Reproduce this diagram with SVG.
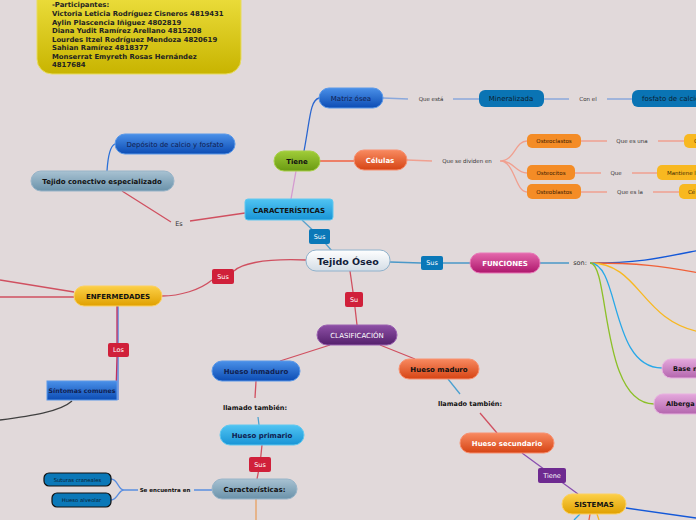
<svg xmlns="http://www.w3.org/2000/svg" width="696" height="520" viewBox="0 0 696 520">
<defs>
<linearGradient id="gYel" x1="0" y1="0" x2="0" y2="1"><stop offset="0" stop-color="#eee040"/><stop offset="1" stop-color="#c8b400"/></linearGradient>
<linearGradient id="gBlue" x1="0" y1="0" x2="0" y2="1"><stop offset="0" stop-color="#4a90e8"/><stop offset="1" stop-color="#0c4cb4"/></linearGradient>
<linearGradient id="gGray" x1="0" y1="0" x2="0" y2="1"><stop offset="0" stop-color="#a8c2d2"/><stop offset="1" stop-color="#6a92aa"/></linearGradient>
<linearGradient id="gCyan" x1="0" y1="0" x2="0" y2="1"><stop offset="0" stop-color="#50c4f2"/><stop offset="1" stop-color="#1894d6"/></linearGradient>
<linearGradient id="gGreen" x1="0" y1="0" x2="0" y2="1"><stop offset="0" stop-color="#a0cc38"/><stop offset="1" stop-color="#6a9a12"/></linearGradient>
<linearGradient id="gRed" x1="0" y1="0" x2="0" y2="1"><stop offset="0" stop-color="#f88a60"/><stop offset="1" stop-color="#d64414"/></linearGradient>
<linearGradient id="gWhite" x1="0" y1="0" x2="0" y2="1"><stop offset="0" stop-color="#ffffff"/><stop offset="1" stop-color="#d4dde6"/></linearGradient>
<linearGradient id="gMag" x1="0" y1="0" x2="0" y2="1"><stop offset="0" stop-color="#e468ac"/><stop offset="1" stop-color="#ae166c"/></linearGradient>
<linearGradient id="gPink" x1="0" y1="0" x2="0" y2="1"><stop offset="0" stop-color="#e4a8dc"/><stop offset="1" stop-color="#b466ae"/></linearGradient>
<linearGradient id="gGold" x1="0" y1="0" x2="0" y2="1"><stop offset="0" stop-color="#fcd048"/><stop offset="1" stop-color="#e0a000"/></linearGradient>
<linearGradient id="gPurp" x1="0" y1="0" x2="0" y2="1"><stop offset="0" stop-color="#8e50a6"/><stop offset="1" stop-color="#54206c"/></linearGradient>
</defs>
<style>
text{font-family:"DejaVu Sans",Verdana,sans-serif;text-anchor:middle;dominant-baseline:central}
.b{font-weight:bold}
.lbl{font-size:6px;fill:#333}
.ln{fill:none;stroke-width:1.3}
.tag{font-size:6.5px;fill:#fff}
</style>
<rect width="696" height="520" fill="#e1d9da"/>

<g id="connectors">
<path class="ln" stroke="#5aa2cc" d="M332,251 L319,236 L302,220"/>
<path class="ln" stroke="#d05060" d="M245,213 L190,221 M171,222 L122,191"/>
<path class="ln" stroke="#2a70d8" d="M107,171 C108,155 110,146 115,144"/>
<path class="ln" stroke="#d49ad0" d="M291,199 L296,171"/>
<path class="ln" stroke="#2a66d0" stroke-width="1.6" d="M304,151 C310,120 310,100 319,98"/>
<path class="ln" stroke="#f06040" stroke-width="1.6" d="M320,161 L354,161"/>
<path class="ln" stroke="#8aa8dc" d="M383,98 L408,99 M453,99 L479,99 M544,99 L569,99 M607,99 L632,99"/>
<path class="ln" stroke="#f0a090" d="M407,160 L432,161 M500,161 C515,161 515,141 527,141 M500,161 C515,161 515,173 527,173 M500,161 C515,161 515,192 527,192 M581,141 L607,141 M658,141 L684,141 M575,173 L601,173 M632,173 L657,173 M581,192 L607,192 M653,192 L679,192"/>
<path class="ln" stroke="#4a98c8" d="M390,262 L421,263 M443,263 L470,263 M540,263 L569,263"/>
<path class="ln" stroke="#1458d8" stroke-width="2" d="M590,263 C640,263 660,258 700,250"/>
<path class="ln" stroke="#f06038" stroke-width="1.6" d="M590,263 C640,263 660,266 700,273"/>
<path class="ln" stroke="#f8b820" stroke-width="1.4" d="M590,263 C640,263 640,320 700,332"/>
<path class="ln" stroke="#28a8e8" stroke-width="1.4" d="M590,263 C620,263 610,368 662,368"/>
<path class="ln" stroke="#8cc028" stroke-width="1.4" d="M590,263 C610,263 600,404 654,404"/>
<path class="ln" stroke="#d05060" d="M306,260 C260,258 240,265 234,271 M212,280 C200,290 180,296 162,296"/>
<path class="ln" stroke="#d05060" d="M74,292 L0,280 M74,297 L0,297"/>
<path class="ln" stroke="#d05060" d="M350,271 L354,299 L357,325"/>
<path class="ln" stroke="#d05060" d="M330,345 L280,361 M380,345 L415,359"/>
<path class="ln" stroke="#d05060" d="M256,381 L255,398"/>
<path class="ln" stroke="#4aa0d0" d="M258,417 L259,425"/>
<path class="ln" stroke="#d05060" d="M262,445 L260,464 L257,479"/>
<path class="ln" stroke="#e8a060" d="M256,499 L256,520"/>
<path class="ln" stroke="#5a8ee0" d="M212,490 L194,490 M138,490 L124,490 C118,490 118,479 111,479 M124,490 C118,490 118,500 111,500"/>
<path class="ln" stroke="#4aa0d0" d="M448,379 L460,394"/>
<path class="ln" stroke="#d05060" d="M480,413 L497,433"/>
<path class="ln" stroke="#8a50b0" d="M522,453 L552,475 L578,494"/>
<path class="ln" stroke="#1458d8" d="M626,508 L696,518"/>
<path class="ln" stroke="#28a8e8" d="M580,514 L574,520"/>
<path class="ln" stroke="#f06040" d="M590,514 L589,520"/>
<path class="ln" stroke="#f8b820" d="M597,514 L599,520"/>
<path class="ln" stroke="#4a7ae0" stroke-width="1.6" d="M118,306 L118,400"/>
<path class="ln" stroke="#c03060" d="M117,306 L117,343 M117,357 L116,392"/>
<path class="ln" stroke="#404040" stroke-width="1.4" d="M72,401 C60,412 30,416 0,420"/>
</g>

<g id="participantes">
<path d="M37,-10 H241 V59 A15,15 0 0 1 226,74 H52 A15,15 0 0 1 37,59 Z" fill="url(#gYel)" stroke="#e8dc60"/>
<g class="b" style="font-size:6.9px;text-anchor:start" fill="#222">
<text x="52" y="5" style="text-anchor:start">-Participantes:</text>
<text x="52" y="14" style="text-anchor:start">Victoria Leticia Rodríguez Cisneros 4819431</text>
<text x="52" y="22.5" style="text-anchor:start">Aylin Plascencia Iñiguez 4802819</text>
<text x="52" y="31" style="text-anchor:start">Diana Yudit Ramírez Arellano 4815208</text>
<text x="52" y="39.5" style="text-anchor:start">Lourdes Itzel Rodríguez Mendoza 4820619</text>
<text x="52" y="48" style="text-anchor:start">Sahian Ramírez 4818377</text>
<text x="52" y="56.5" style="text-anchor:start">Monserrat Emyreth Rosas Hernández</text>
<text x="52" y="65" style="text-anchor:start">4817684</text>
</g>
</g>

<g id="deposito"><rect x="115" y="134" width="120" height="20" rx="10" fill="url(#gBlue)" stroke="#5a98e8"/><text x="175" y="144.5" style="font-size:7px" fill="#102050">Depósito de calcio y fosfato</text></g>
<g id="tejido-conectivo"><rect x="31" y="171" width="143" height="20" rx="10" fill="url(#gGray)" stroke="#98b4c8"/><text x="102" y="181.5" class="b" style="font-size:7px" fill="#111">Tejido conectivo especializado</text></g>
<g id="es"><text x="179" y="224" class="lbl" style="font-size:6.5px">Es</text></g>
<g id="caracteristicas"><rect x="245" y="199" width="88" height="21" rx="3" fill="url(#gCyan)" stroke="#60c8f0"/><text x="289" y="210.5" class="b" style="font-size:7px" fill="#111">CARACTERÍSTICAS</text></g>
<g id="tiene"><rect x="274" y="151" width="46" height="20" rx="10" fill="url(#gGreen)" stroke="#a8d048"/><text x="297" y="161.5" class="b" style="font-size:7px" fill="#111">Tiene</text></g>
<g id="matriz"><rect x="319" y="88" width="64" height="20" rx="10" fill="url(#gBlue)" stroke="#5a98e8"/><text x="351" y="98.5" style="font-size:7px" fill="#102050">Matriz ósea</text></g>
<g id="que-esta"><text x="431" y="99" class="lbl" style="font-size:5.5px">Que está</text></g>
<g id="mineralizada"><rect x="479" y="90" width="65" height="17" rx="6" fill="#0a74b4"/><text x="511" y="98.8" style="font-size:7px" fill="#0a1e30">Mineralizada</text></g>
<g id="con-el"><text x="588" y="99" class="lbl" style="font-size:5.5px">Con el</text></g>
<g id="fosfato"><rect x="632" y="90" width="80" height="17" rx="6" fill="#0a74b4"/><text x="642" y="98.8" style="font-size:7px;text-anchor:start" fill="#0a1e30">fosfato de calcio</text></g>
<g id="celulas"><rect x="354" y="150" width="53" height="20" rx="10" fill="url(#gRed)" stroke="#f89070"/><text x="380" y="160.5" class="b" style="font-size:7px" fill="#fff">Células</text></g>
<g id="que-dividen"><text x="467" y="161" class="lbl" style="font-size:5.5px">Que se dividen en</text></g>
<g id="osteoclastos"><rect x="527" y="134" width="54" height="14" rx="5" fill="#f48c26"/><text x="554" y="141.3" style="font-size:5.5px" fill="#3a1a00">Osteoclastos</text></g>
<g id="que-es-una"><text x="632" y="141" class="lbl" style="font-size:5.5px">Que es una</text></g>
<g id="c-node"><rect x="684" y="134" width="30" height="14" rx="5" fill="#f8b820"/><text x="694" y="141.3" style="font-size:5.5px;text-anchor:start" fill="#3a2a00">C</text></g>
<g id="osteocitos"><rect x="527" y="165" width="48" height="15" rx="5" fill="#f48c26"/><text x="551" y="172.8" style="font-size:5.5px" fill="#3a1a00">Osteocitos</text></g>
<g id="que"><text x="616" y="173" class="lbl" style="font-size:5.5px">Que</text></g>
<g id="mantiene"><rect x="657" y="165" width="60" height="15" rx="5" fill="#f8b820"/><text x="667" y="172.8" style="font-size:5.5px;text-anchor:start" fill="#3a2a00">Mantiene l</text></g>
<g id="osteoblastos"><rect x="527" y="184" width="54" height="15" rx="5" fill="#f48c26"/><text x="554" y="191.8" style="font-size:5.5px" fill="#3a1a00">Osteoblastos</text></g>
<g id="que-es-la"><text x="630" y="192" class="lbl" style="font-size:5.5px">Que es la</text></g>
<g id="ce-node"><rect x="679" y="184" width="30" height="15" rx="5" fill="#f8b820"/><text x="688" y="191.8" style="font-size:5.5px;text-anchor:start" fill="#3a2a00">Cé</text></g>

<g id="tejido-oseo"><rect x="306" y="250" width="84" height="21" rx="10" fill="url(#gWhite)" stroke="#90b2cc"/><text x="348" y="261" class="b" style="font-size:9.5px" fill="#12203a">Tejido Óseo</text></g>
<g id="sus1"><rect x="309" y="229" width="21" height="15" rx="2" fill="#0a78b8"/><text x="319.5" y="236.8" class="tag">Sus</text></g>
<g id="sus2"><rect x="421" y="256" width="22" height="14" rx="2" fill="#0a78b8"/><text x="432" y="263.3" class="tag">Sus</text></g>
<g id="funciones"><rect x="470" y="253" width="70" height="20" rx="10" fill="url(#gMag)" stroke="#e878b8"/><text x="505" y="263.5" class="b" style="font-size:7px" fill="#fff">FUNCIONES</text></g>
<g id="son"><text x="580" y="263" style="font-size:6.5px" fill="#333">son:</text></g>
<g id="base"><rect x="662" y="359" width="60" height="19" rx="9" fill="url(#gPink)" stroke="#e8b0e0"/><text x="673" y="368.8" class="b" style="font-size:6.5px;text-anchor:start" fill="#111">Base n</text></g>
<g id="alberga"><rect x="654" y="394" width="66" height="20" rx="9" fill="url(#gPink)" stroke="#e8b0e0"/><text x="666" y="404.3" class="b" style="font-size:6.5px;text-anchor:start" fill="#111">Alberga</text></g>

<g id="sus3"><rect x="212" y="269" width="22" height="15" rx="2" fill="#d0203a"/><text x="223" y="276.8" class="tag">Sus</text></g>
<g id="enfermedades"><rect x="74" y="286" width="88" height="20" rx="10" fill="url(#gGold)" stroke="#fcd060"/><text x="118" y="296.5" class="b" style="font-size:7px" fill="#111">ENFERMEDADES</text></g>
<g id="los"><rect x="108" y="343" width="21" height="14" rx="2" fill="#d0203a"/><text x="118.5" y="350.3" class="tag">Los</text></g>
<g id="sintomas"><rect x="47" y="381" width="70" height="19" fill="url(#gBlue)" stroke="#5a98e8"/><text x="82" y="390.8" class="b" style="font-size:6.3px" fill="#102050">Síntomas comunes</text></g>

<g id="su"><rect x="345" y="292" width="18" height="15" rx="2" fill="#d0203a"/><text x="354" y="299.8" class="tag">Su</text></g>
<g id="clasificacion"><rect x="317" y="325" width="80" height="20" rx="10" fill="url(#gPurp)" stroke="#9a60b0"/><text x="357" y="335.5" style="font-size:7px" fill="#fff">CLASIFICACIÓN</text></g>
<g id="hueso-inmaduro"><rect x="212" y="361" width="88" height="20" rx="10" fill="url(#gBlue)" stroke="#5a98e8"/><text x="256" y="371.5" class="b" style="font-size:7px" fill="#102050">Hueso inmaduro</text></g>
<g id="hueso-maduro"><rect x="399" y="359" width="80" height="20" rx="10" fill="url(#gRed)" stroke="#f89070"/><text x="439" y="369.5" class="b" style="font-size:7px" fill="#111">Hueso maduro</text></g>
<g id="llamado1"><text x="255" y="407.5" class="b" style="font-size:6.5px" fill="#111">llamado también:</text></g>
<g id="llamado2"><text x="470" y="403.5" class="b" style="font-size:6.5px" fill="#111">llamado también:</text></g>
<g id="hueso-primario"><rect x="220" y="425" width="84" height="20" rx="10" fill="url(#gCyan)" stroke="#60c8f0"/><text x="262" y="435.5" class="b" style="font-size:7px" fill="#102050">Hueso primario</text></g>
<g id="sus4"><rect x="249" y="457" width="22" height="15" rx="2" fill="#d0203a"/><text x="260" y="464.8" class="tag">Sus</text></g>
<g id="caracteristicas2"><rect x="212" y="479" width="85" height="20" rx="10" fill="url(#gGray)" stroke="#98b4c8"/><text x="254.5" y="489.5" class="b" style="font-size:7px" fill="#111">Características:</text></g>
<g id="se-encuentra"><text x="165" y="490" class="b" style="font-size:5.5px" fill="#111">Se encuentra en</text></g>
<g id="suturas"><rect x="44" y="473" width="67" height="13" rx="5" fill="#0a78b8" stroke="#111" stroke-width="1.2"/><text x="77.5" y="479.8" style="font-size:5.3px" fill="#0a1e30">Suturas craneales</text></g>
<g id="alveolar"><rect x="52" y="493" width="59" height="14" rx="5" fill="#0a78b8" stroke="#111" stroke-width="1.2"/><text x="81.5" y="500.3" style="font-size:5.3px" fill="#0a1e30">Hueso alveolar</text></g>
<g id="hueso-secundario"><rect x="460" y="433" width="94" height="20" rx="10" fill="url(#gRed)" stroke="#f89070"/><text x="507" y="443.5" class="b" style="font-size:7px" fill="#fff">Hueso secundario</text></g>
<g id="tiene2"><rect x="538" y="468" width="28" height="15" rx="2" fill="#6e2a90"/><text x="552" y="475.8" class="tag">Tiene</text></g>
<g id="sistemas"><rect x="562" y="494" width="64" height="20" rx="10" fill="url(#gGold)" stroke="#fcd060"/><text x="594" y="504.5" class="b" style="font-size:7px" fill="#111">SISTEMAS</text></g>
</svg>
